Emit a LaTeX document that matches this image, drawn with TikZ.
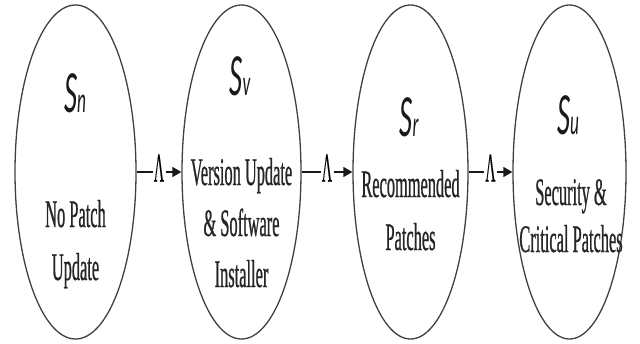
\documentclass[tikz,border=0pt]{standalone}
\usepackage{fontspec}
\setmainfont[FakeStretch=0.42,FakeBold=0.6]{Liberation Serif}
\newfontfamily\lamfont[FakeBold=0.8]{Liberation Serif}
\newfontfamily\symfont[FakeStretch=0.48]{Carlito Italic}
\newcommand\lamsym{\resizebox{10pt}{27pt}{\lamfont\char"039B}}
\usetikzlibrary{arrows.meta,shapes.geometric}
\begin{document}
\begin{tikzpicture}[x=1pt,y=-1pt,
  state/.style={ellipse, draw=black!75, line width=1.3pt, minimum width=#1, minimum height=334pt, inner sep=0pt},
  txt/.style={anchor=base, text=black!85, font=\fontsize{39}{39}\selectfont, inner sep=0pt},
  lab/.style={anchor=base, text=black!90, inner sep=0pt},
  arr/.style={line width=1.6pt, draw=black!90, -{Triangle[length=9pt,width=10pt]}},
  lam/.style={midway, fill=white, inner xsep=1.5pt, inner ysep=0pt, yshift=4pt, text=black}
]
\useasboundingbox (0,0) rectangle (640,343);
\node[state=121pt] (e1) at (75.5,172) {};
\node[state=119pt] (e2) at (241.5,172) {};
\node[state=115pt] (e3) at (410.5,172) {};
\node[state=113pt] (e4) at (569.5,172) {};

\node[lab] (s1) at (75,112) {\symfont\fontsize{60}{60}\selectfont S\fontsize{36}{36}\selectfont n};
\node[lab] (s2) at (240,95) {\symfont\fontsize{60}{60}\selectfont S\fontsize{36}{36}\selectfont v};
\node[lab] (s3) at (409,136) {\symfont\fontsize{60}{60}\selectfont S\fontsize{36}{36}\selectfont r};
\node[lab] (s4) at (568,134) {\symfont\fontsize{60}{60}\selectfont S\fontsize{36}{36}\selectfont u};

\node[txt] (t1a) at (75.5,227) {No Patch};
\node[txt] (t1b) at (75.5,280) {Update};
\node[txt] (t2a) at (241.5,185) {Version Update};
\node[txt] (t2b) at (241.5,236) {\& Software};
\node[txt] (t2c) at (241.5,287) {Installer};
\node[txt] (t3a) at (410.5,197) {Recommended};
\node[txt] (t3b) at (410.5,250) {Patches};
\node[txt] (t4a) at (571,205) {Security \&};
\node[txt] (t4b) at (571,252) {Critical Patches};

\draw[arr] (e1) -- (e2) node[lam] (l1) {\lamsym};
\draw[arr] (e2) -- (e3) node[lam] (l2) {\lamsym};
\draw[arr] (e3) -- (e4) node[lam] (l3) {\lamsym};
\end{tikzpicture}
\end{document}
